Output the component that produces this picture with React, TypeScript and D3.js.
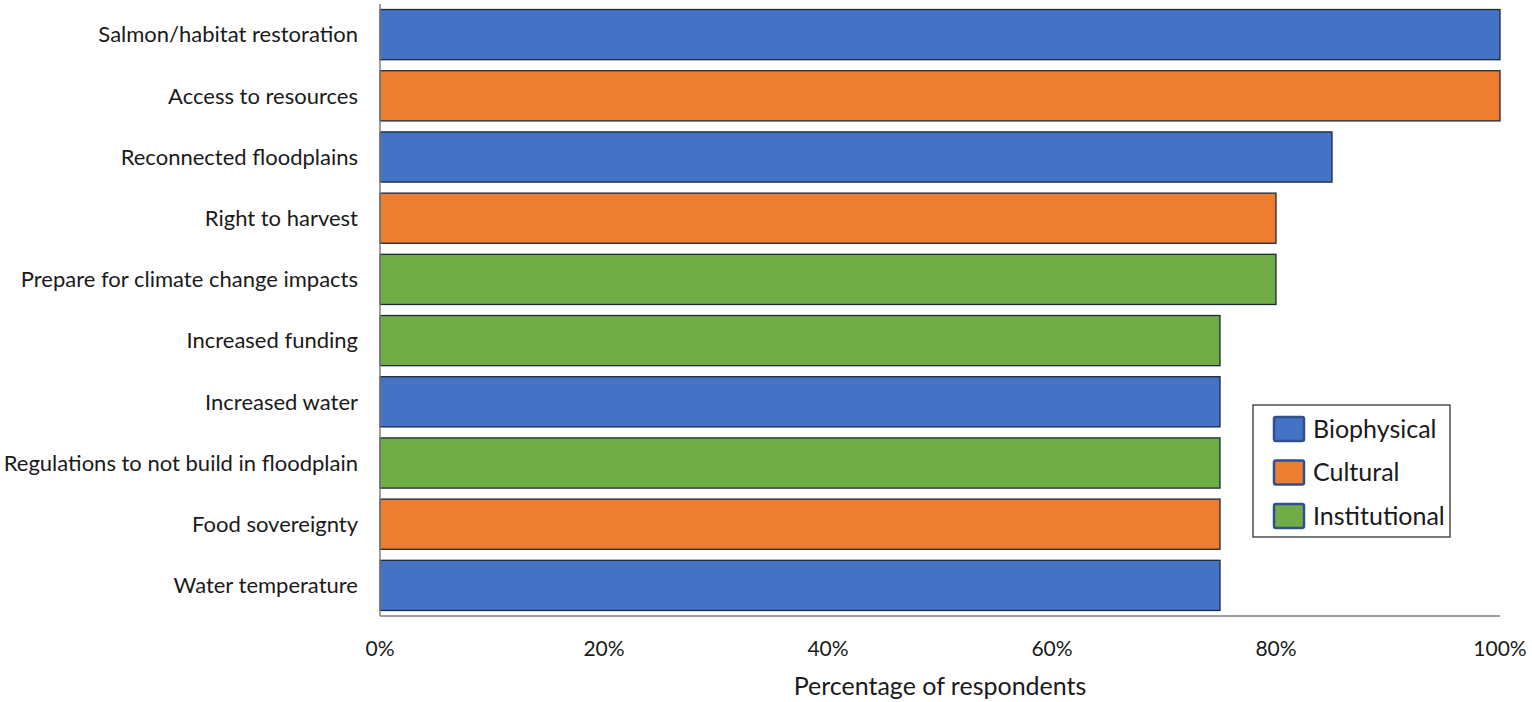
import React, { useEffect, useRef } from 'react';
import * as d3 from 'd3';

const categories = [
  'Salmon/habitat restoration',
  'Access to resources',
  'Reconnected floodplains',
  'Right to harvest',
  'Prepare for climate change impacts',
  'Increased funding',
  'Increased water',
  'Regulations to not build in floodplain',
  'Food sovereignty',
  'Water temperature',
];
const values = [100, 100, 85, 80, 80, 75, 75, 75, 75, 75];
const groups = [
  'Biophysical', 'Cultural', 'Biophysical', 'Cultural', 'Institutional',
  'Institutional', 'Biophysical', 'Institutional', 'Cultural', 'Biophysical',
];
const legendGroups = ['Biophysical', 'Cultural', 'Institutional'];
const groupColors = ['#4472C4', '#ED7D31', '#70AD47'];
const xTicks = [0, 20, 40, 60, 80, 100];

const W = 1532;
const H = 702;
const FONT = 'Lato, "Open Sans", sans-serif';

export default function App() {
  const ref = useRef<SVGSVGElement>(null);

  useEffect(() => {
    document.body.style.margin = '0';
    const svg = d3.select(ref.current);
    svg.selectAll('*').remove();

    const left = 380;
    const right = 1500;
    const top = 4;
    const bottom = 616;

    const x = d3.scaleLinear().domain([0, 100]).range([left, right]);
    const y = d3.scaleBand()
      .domain(categories)
      .range([top, bottom])
      .paddingInner(0.18)
      .paddingOuter(0.09);
    const color = d3.scaleOrdinal<string>().domain(legendGroups).range(groupColors);

    // bars
    svg.append('g')
      .selectAll('rect')
      .data(categories)
      .enter()
      .append('rect')
      .attr('x', x(0))
      .attr('y', d => y(d) || 0)
      .attr('width', (d, i) => x(values[i]) - x(0))
      .attr('height', y.bandwidth())
      .attr('fill', (d, i) => color(groups[i]))
      .attr('stroke', '#1d2a3a')
      .attr('stroke-width', 1.3);

    // axes lines
    svg.append('line')
      .attr('x1', left).attr('x2', left)
      .attr('y1', top).attr('y2', bottom)
      .attr('stroke', '#808080').attr('stroke-width', 1.5);
    svg.append('line')
      .attr('x1', left).attr('x2', right)
      .attr('y1', bottom).attr('y2', bottom)
      .attr('stroke', '#808080').attr('stroke-width', 1.5);

    // category labels
    svg.append('g')
      .selectAll('text')
      .data(categories)
      .enter()
      .append('text')
      .attr('x', 358)
      .attr('y', d => (y(d) || 0) + y.bandwidth() / 2)
      .attr('dy', '0.35em')
      .attr('text-anchor', 'end')
      .attr('font-family', FONT)
      .attr('font-size', 22)
      .attr('fill', '#1a1a1a')
      .text(d => d);

    // x tick labels
    svg.append('g')
      .selectAll('text')
      .data(xTicks)
      .enter()
      .append('text')
      .attr('x', d => x(d))
      .attr('y', 656)
      .attr('text-anchor', 'middle')
      .attr('font-family', FONT)
      .attr('font-size', 21)
      .attr('fill', '#1a1a1a')
      .text(d => `${d}%`);

    svg.append('text')
      .attr('x', (left + right) / 2)
      .attr('y', 695)
      .attr('text-anchor', 'middle')
      .attr('font-family', FONT)
      .attr('font-size', 25)
      .attr('fill', '#1a1a1a')
      .text('Percentage of respondents');

    // legend
    const lg = svg.append('g');
    lg.append('rect')
      .attr('x', 1253).attr('y', 405)
      .attr('width', 197).attr('height', 132)
      .attr('fill', '#fff')
      .attr('stroke', '#333').attr('stroke-width', 1.3);
    const items = lg.selectAll('g.item')
      .data(legendGroups)
      .enter()
      .append('g')
      .attr('transform', (d, i) => `translate(1274, ${417 + i * 43.5})`);
    items.append('rect')
      .attr('width', 30).attr('height', 24)
      .attr('rx', 2)
      .attr('fill', d => color(d))
      .attr('stroke', '#2F4F8F').attr('stroke-width', 2.5);
    items.append('text')
      .attr('x', 39)
      .attr('y', 12)
      .attr('dy', '0.35em')
      .attr('font-family', FONT)
      .attr('font-size', 25)
      .attr('fill', '#1a1a1a')
      .text(d => d);
  }, []);

  return <svg ref={ref} width={W} height={H} style={{ display: 'block', background: '#fff' }}></svg>;
}
